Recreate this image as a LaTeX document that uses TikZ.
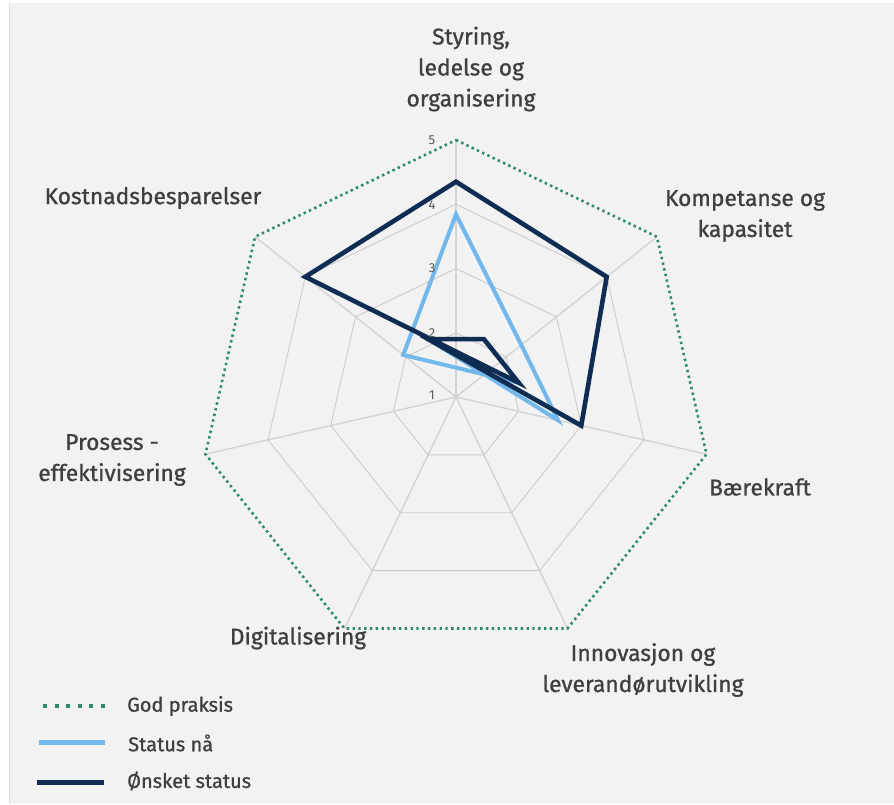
\documentclass[tikz,border=0pt]{standalone}
\usepackage{fontspec}
\setmainfont{Fira Sans}
\newfontfamily\labfont{Fira Sans}[FakeBold=0.9]
\definecolor{bgc}{HTML}{F2F2F2}
\definecolor{edgec}{HTML}{DDDDDD}
\definecolor{txt}{HTML}{3F3F3F}
\definecolor{tick}{HTML}{595959}
\definecolor{gridc}{HTML}{CCCCCC}
\definecolor{axisc}{HTML}{D4D4D4}
\definecolor{goodc}{HTML}{2E8B6A}
\definecolor{nowc}{HTML}{72B8EA}
\definecolor{wantc}{HTML}{0F2D52}
\begin{document}
\begin{tikzpicture}[x=1pt,y=-1pt,
  lab/.style={text=txt,align=center,font=\labfont\fontsize{22.8}{31}\selectfont,inner sep=0pt},
  ticklab/.style={text=tick,font=\fontsize{13}{13}\selectfont,inner sep=0pt},
  leglab/.style={text=txt,font=\labfont\fontsize{20}{20}\selectfont,inner sep=0pt,anchor=west},
  ring/.style={draw=gridc,line width=0.9pt},
  spoke/.style={draw=axisc,line width=1.4pt},
  good/.style={draw=goodc,line width=2.6pt,dash pattern=on 2.4pt off 3.4pt},
  nowline/.style={draw=nowc,line width=4pt,line join=miter},
  wantline/.style={draw=wantc,line width=4.6pt,line join=miter}]
\useasboundingbox (0,0) rectangle (894,804);
\fill[white] (0,0) rectangle (894,804);
\fill[bgc] (9,3) rectangle (894,804);
\draw[edgec,line width=1pt] (9.5,3) -- (9.5,804);
\begin{scope}[shift={(456,397)}]
  % spokes
  \foreach \a in {-90,-38.5714,12.8571,64.2857,115.7143,167.1429,218.5714}
    \draw[spoke] (0,0) -- (\a:257);
  % rings
  \foreach \r in {64.25,128.5,192.75}
    \draw[ring] (-90:\r) -- (-38.5714:\r) -- (12.8571:\r) -- (64.2857:\r) -- (115.7143:\r) -- (167.1429:\r) -- (218.5714:\r) -- cycle;
  % God praksis
  \draw[good] (-90:257) -- (-38.5714:257) -- (12.8571:257) -- (64.2857:257) -- (115.7143:257) -- (167.1429:257) -- (218.5714:257) -- cycle;
  % Status naa
  \draw[nowline] (-90:182.7) -- (-38.5714:83.5) -- (12.8571:104.7) -- (64.2857:-64.25) -- (115.7143:-64.25) -- (167.1429:-64.25) -- (218.5714:67.5) -- cycle;
  % Onsket status
  \draw[wantline] (-90:215.3) -- (-38.5714:192.75) -- (12.8571:128.5) -- (64.2857:-64.25) -- (115.7143:-64.25) -- (167.1429:-64.25) -- (218.5714:192.75) -- cycle;
  % tick labels
  \node[ticklab] (t1) at (-24,-2) {1};
  \node[ticklab] (t2) at (-24,-64) {2};
  \node[ticklab] (t3) at (-24,-129) {3};
  \node[ticklab] (t4) at (-24,-192) {4};
  \node[ticklab] (t5) at (-24,-257) {5};
\end{scope}
% axis labels
\node[lab] (styr) at (471,69) {Styring,\\ledelse og\\organisering};
\node[lab] (komp) at (745,216) {Kompetanse og\\kapasitet};
\node[lab] (baer) at (760,487) {Bærekraft};
\node[lab] (innov) at (643,670) {Innovasjon og\\leverandørutvikling};
\node[lab] (digi) at (298,638) {Digitalisering};
\node[lab] (pros) at (112,460) {Prosess -\\effektivisering};
\node[lab] (kost) at (153,198) {Kostnadsbesparelser};
% legend
\coordinate (g1) at (43,706); \coordinate (g2) at (110,706);
\draw[draw=goodc,line width=4pt,dash pattern=on 4pt off 7.5pt] (g1) -- (g2);
\node[leglab] (gl) at (127,706) {God praksis};
\coordinate (s1) at (39,742); \coordinate (s2) at (105,742);
\draw[draw=nowc,line width=5pt] (s1) -- (s2);
\node[leglab] (sl) at (128,743) {Status nå};
\coordinate (o1) at (37,782); \coordinate (o2) at (104,782);
\draw[draw=wantc,line width=5pt] (o1) -- (o2);
\node[leglab] (ol) at (127,781) {Ønsket status};
\end{tikzpicture}
\end{document}
